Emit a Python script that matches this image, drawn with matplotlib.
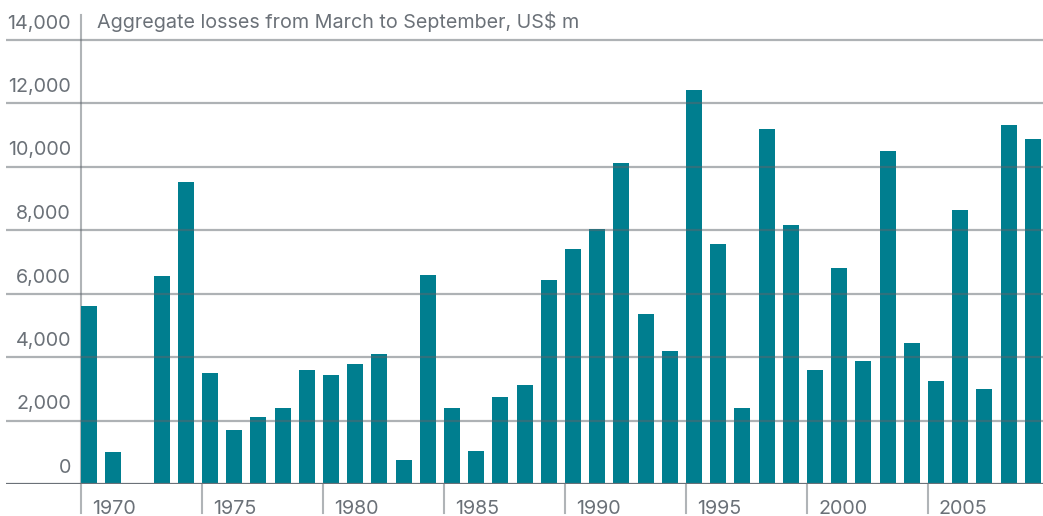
import matplotlib
matplotlib.use('Agg')
import matplotlib.pyplot as plt

years = list(range(1970, 2010))
losses = [5600, 1000, 0, 6550, 9500, 3500, 1700, 2100, 2400, 3600,
          3430, 3780, 4090, 760, 6580, 2400, 1040, 2740, 3120, 6430,
          7400, 8030, 10110, 5350, 4190, 12410, 7560, 2400, 11180, 8150,
          3600, 6800, 3870, 10490, 4440, 3240, 8630, 2990, 11300, 10870]
y_ticks = [0, 2000, 4000, 6000, 8000, 10000, 12000, 14000]
x_ticks = [1970, 1975, 1980, 1985, 1990, 1995, 2000, 2005]
title = 'Aggregate losses from March to September, US$ m'

teal = '#007e8f'
grid_c = '#b0b4b7'
dark = '#6b7178'
txt = '#6b7178'
plt.rcParams['font.family'] = ['Inter', 'DejaVu Sans']
fs = 14.2

W, H = 1043, 516
fig = plt.figure(figsize=(W / 100, H / 100), dpi=100)
ax = fig.add_axes([0, 32 / H, 1, 479 / H])
for s in ax.spines.values():
    s.set_visible(False)
ax.set_xticks([])
ax.set_yticks([])

px = 24.2          # pixels per year
ppu = 63.5 / 2000  # pixels per unit
x0 = 1970 - 0.33 - 81 / px
ax.set_xlim(x0, x0 + W / px)
ax.set_ylim(0, 479 / ppu)

ax.bar(years, losses, width=0.66, color=teal, zorder=2)

xl = x0 + 6 / px
for v in y_ticks[1:]:
    ax.plot([xl, x0 + W / px], [v, v], color='#5f666c', alpha=0.5, lw=1.6, zorder=3,
            solid_capstyle='butt')
ax.plot([xl, x0 + W / px], [0, 0], color=dark, lw=1.6, zorder=4, solid_capstyle='butt')

left = 1970 - 0.33
ax.plot([left, left], [0, 469 / ppu], color=grid_c, lw=1.5, zorder=1)
for t in x_ticks:
    xt = t - 0.33
    ax.plot([xt, xt], [0, -29 / ppu], color=grid_c, lw=1.5, clip_on=False)
    ax.text(xt + 11 / px, -30 / ppu, str(t), ha='left', va='baseline',
            fontsize=fs, color=txt, clip_on=False)

for v in y_ticks:
    ax.text(x0 + 71 / px, v + 11 / ppu, f'{v:,}', ha='right', va='baseline',
            fontsize=fs, color=txt)

ax.text(x0 + 97 / px, 14000 + 11 / ppu, title, ha='left', va='baseline',
        fontsize=fs, color=txt)

fig.savefig('out.png', dpi=100)
